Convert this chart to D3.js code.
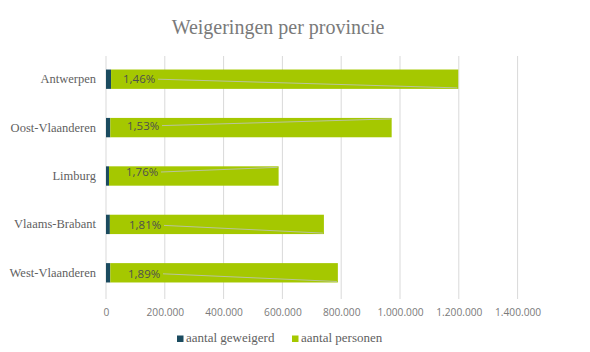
<!DOCTYPE html>
<html lang="nl">
<head>
<meta charset="UTF-8">
<title>Weigeringen per provincie</title>
<script src="https://cdn.jsdelivr.net/npm/d3@7"></script>
<style>
  body { margin: 0; background: #fff; }
  svg { display: block; }
</style>
</head>
<body>
<div id="chart"></div>
<script>
const provincies = ["Antwerpen", "Oost-Vlaanderen", "Limburg", "Vlaams-Brabant", "West-Vlaanderen"];
const geweigerd = [17200, 14650, 10150, 13180, 14630];
const personen = [1181000, 957000, 577000, 728000, 774000];
const percentages = ["1,46%", "1,53%", "1,76%", "1,81%", "1,89%"];
const ticks = [0, 200000, 400000, 600000, 800000, 1000000, 1200000, 1400000];
const series = ["aantal geweigerd", "aantal personen"];

// label placement (Excel moved the labels by hand, leader lines go to bar end)
const labelDx = [17, 21, 20, 23, 22];
const labelDy = [0, -2, -4, 1, 1];
const leaderTop = [false, true, true, false, false];

const w = 590, h = 352;
const margin = { left: 106, right: 72, top: 55, bottom: 55 };
const colors = ["#1b4b5f", "#a5c800"];
const serif = "'Liberation Serif', serif";
const sans = "'Open Sans', sans-serif";

const svg = d3.select("#chart").append("svg")
  .attr("width", w).attr("height", h);

const x = d3.scaleLinear()
  .domain([0, 1400000])
  .range([margin.left, margin.left + 58.8 * 7]);

const y = d3.scaleBand()
  .domain(provincies)
  .range([margin.top, h - margin.bottom])
  .paddingInner(0.6)
  .paddingOuter(0.3);

svg.append("text")
  .attr("x", 278).attr("y", 34)
  .attr("text-anchor", "middle")
  .attr("font-family", serif)
  .attr("font-size", 20)
  .attr("fill", "#7a7a7a")
  .text("Weigeringen per provincie");

// grid
svg.append("g")
  .selectAll("line")
  .data(ticks)
  .join("line")
  .attr("x1", d => x(d)).attr("x2", d => x(d))
  .attr("y1", margin.top + 1).attr("y2", h - margin.bottom + 2)
  .attr("stroke", "#d9d9d9")
  .attr("stroke-width", 1);

const fmt = d3.formatLocale({ decimal: ",", thousands: ".", grouping: [3], currency: ["", "€"] }).format(",");

const xAxis = svg.append("g")
  .attr("transform", `translate(0,${h - margin.bottom})`)
  .call(d3.axisBottom(x).tickValues(ticks).tickFormat(fmt).tickSize(0).tickPadding(12));
xAxis.select(".domain").remove();
xAxis.selectAll("text")
  .attr("font-family", sans)
  .attr("font-size", 10.2)
  .attr("fill", "#7a7a7a");

const yAxis = svg.append("g")
  .attr("transform", `translate(${margin.left - 10},0)`)
  .call(d3.axisLeft(y).tickSize(0).tickPadding(0));
yAxis.select(".domain").remove();
yAxis.selectAll("text")
  .attr("font-family", serif)
  .attr("font-size", 12.5)
  .attr("fill", "#5f5f5f");

const rows = provincies.map((p, i) => ({ p, g: geweigerd[i], n: personen[i], i }));

svg.append("g").selectAll("rect")
  .data(rows)
  .join("rect")
  .attr("x", d => x(0))
  .attr("y", d => y(d.p))
  .attr("width", d => x(d.g) - x(0))
  .attr("height", y.bandwidth())
  .attr("fill", colors[0]);

svg.append("g").selectAll("rect")
  .data(rows)
  .join("rect")
  .attr("x", d => x(d.g))
  .attr("y", d => y(d.p))
  .attr("width", d => x(d.g + d.n) - x(d.g))
  .attr("height", y.bandwidth())
  .attr("fill", colors[1]);

const labels = svg.append("g").selectAll("g")
  .data(rows)
  .join("g");

labels.append("line")
  .attr("x1", d => x(0) + labelDx[d.i] + 35)
  .attr("y1", d => y(d.p) + y.bandwidth() / 2 + labelDy[d.i])
  .attr("x2", d => x(d.g + d.n) - 1)
  .attr("y2", d => leaderTop[d.i] ? y(d.p) + 1 : y(d.p) + y.bandwidth() - 1)
  .attr("stroke", "#b9c49c")
  .attr("stroke-width", 1);

labels.append("text")
  .attr("x", d => x(0) + labelDx[d.i])
  .attr("y", d => y(d.p) + y.bandwidth() / 2 + labelDy[d.i])
  .attr("dy", "0.35em")
  .attr("font-family", sans)
  .attr("font-size", 11.5)
  .attr("fill", "#4f4f4f")
  .text(d => percentages[d.i]);

// legend
const legend = svg.append("g").selectAll("g")
  .data(series)
  .join("g")
  .attr("transform", (d, i) => `translate(${i === 0 ? 177 : 292},342)`);

legend.append("rect")
  .attr("x", 0).attr("y", -6.5)
  .attr("width", 6.5).attr("height", 6.5)
  .attr("fill", (d, i) => colors[i]);

legend.append("text")
  .attr("x", 9).attr("y", 0)
  .attr("font-family", serif)
  .attr("font-size", 13)
  .attr("fill", "#5f5f5f")
  .text(d => d);
</script>
</body>
</html>
